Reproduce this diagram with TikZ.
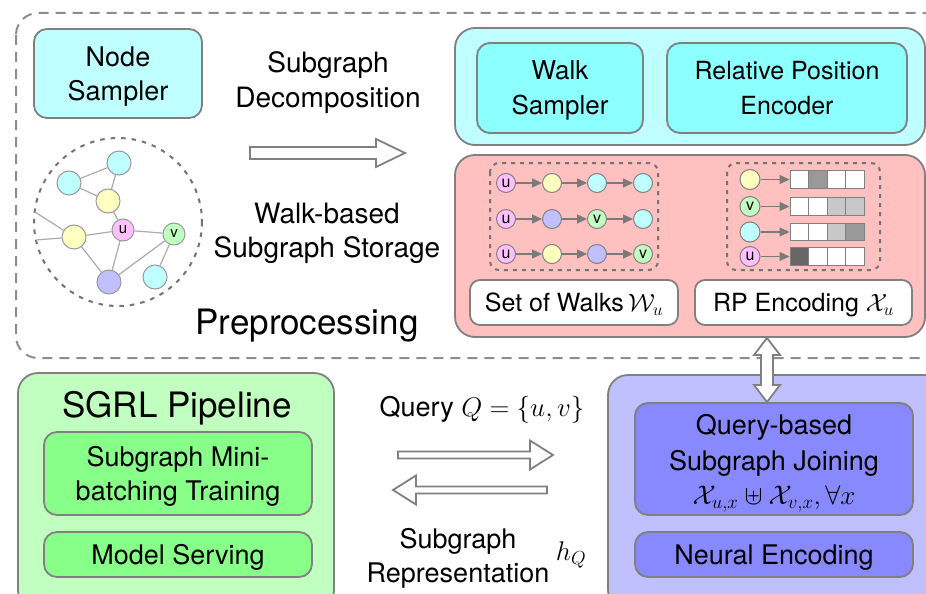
\RequirePackage{fix-cm}
\documentclass[tikz,border=0pt]{standalone}
\usepackage{fontspec}
\setmainfont{TeX Gyre Heros}
\usetikzlibrary{calc,arrows.meta}

\definecolor{edgegray}{HTML}{808080}
\definecolor{linkgray}{HTML}{AAAAAA}
\definecolor{arrowgray}{HTML}{7A7A7A}
\definecolor{cyanlt}{HTML}{C0FFFF}
\definecolor{cyanmd}{HTML}{8CFFFF}
\definecolor{pinkbg}{HTML}{FFC0C0}
\definecolor{greenlt}{HTML}{C0FFC0}
\definecolor{greenmd}{HTML}{88FF88}
\definecolor{purplelt}{HTML}{C0C0FF}
\definecolor{purplemd}{HTML}{8888FF}
\definecolor{nodeU}{HTML}{FFC0FF}
\definecolor{nodeY}{HTML}{FFFFC0}
\definecolor{nodeC}{HTML}{C0FFFF}
\definecolor{nodeV}{HTML}{C0FFC0}
\definecolor{nodeP}{HTML}{C0C0FF}
\definecolor{cellmid}{HTML}{999999}
\definecolor{celllt}{HTML}{C8C8C8}
\definecolor{celldk}{HTML}{666666}

% hollow horizontal arrow: tail, tip, shaft half-width, head half-width, head length
\newcommand\hollowH[5]{%
  \draw[hollow] let \p1=(#1), \p2=(#2), \n1={sign(\x2-\x1)} in
    (\x1,\y1+#3) -- (\x2-\n1*#5,\y1+#3) -- (\x2-\n1*#5,\y1+#4) -- (\x2,\y1)
    -- (\x2-\n1*#5,\y1-#4) -- (\x2-\n1*#5,\y1-#3) -- (\x1,\y1-#3) -- cycle;}
% hollow vertical double arrow between two points (first above second)
\newcommand\hollowVV[5]{%
  \draw[hollow] let \p1=(#1), \p2=(#2) in
    (\x1,\y1) -- (\x1+#4,\y1-#5) -- (\x1+#3,\y1-#5) -- (\x1+#3,\y2+#5)
    -- (\x1+#4,\y2+#5) -- (\x1,\y2) -- (\x1-#4,\y2+#5) -- (\x1-#3,\y2+#5)
    -- (\x1-#3,\y1-#5) -- (\x1-#4,\y1-#5) -- cycle;}

\begin{document}
\begin{tikzpicture}[x=1pt,y=-1pt,
  box/.style={draw=edgegray, line width=1.8pt, rounded corners=13pt,
    align=center, inner sep=0pt, text depth=0pt},
  outerbox/.style={box, rounded corners=20pt},
  tagbox/.style={box, fill=white, rounded corners=10pt},
  big/.style={font={\fontsize{27}{34}\selectfont}},
  huge/.style={font={\fontsize{35}{42}\selectfont}},
  plain/.style={align=center, inner sep=0pt, text depth=0pt},
  gnode/.style={circle, draw=edgegray!80, line width=1pt, minimum size=24pt,
    inner sep=0pt, font={\fontsize{15}{15}\selectfont}},
  wnode/.style={circle, draw=edgegray, line width=1pt, minimum size=19pt,
    inner sep=0pt, font={\fontsize{16}{16}\selectfont}},
  link/.style={draw=linkgray, line width=1.2pt},
  walkarrow/.style={draw=arrowgray, line width=1.3pt,
    -{Triangle[length=10pt,width=9pt]}},
  cell/.style={draw=edgegray, line width=1pt, minimum width=18.5pt,
    minimum height=17.5pt, inner sep=0pt, fill=white},
  hollow/.style={draw=edgegray, line width=1.8pt, fill=white, line join=miter},
  dotbox/.style={draw=edgegray!90!black, line width=2pt, rounded corners=9pt,
    dash pattern=on 4pt off 5pt},
]
\useasboundingbox (0,0) rectangle (926,594);
\clip (0,0) rectangle (926,594);

% preprocessing frame
\draw[draw=edgegray!90, line width=2pt, rounded corners=22pt,
  dash pattern=on 10pt off 7pt] (16,13) rectangle (945,358);

\node[box, big, fill=cyanlt, minimum width=168pt, minimum height=89pt]
  (nodesampler) at (118,73.5) {Node\\Sampler};

\node[plain, font={\fontsize{28}{35}\selectfont}] (decomp) at (328,80)
  {Subgraph\\Decomposition};
\node[plain, font={\fontsize{28}{34}\selectfont}] (storage) at (327,230)
  {Walk-based\\Subgraph Storage};
\node[plain, huge] (prep) at (307,322) {Preprocessing};

% sample graph
\draw[draw=edgegray!90!black, line width=2pt, dash pattern=on 4.5pt off 6pt]
  (118,222) circle[radius=84];
\node[gnode, fill=nodeC] (gc1) at (119,163) {};
\node[gnode, fill=nodeC] (gc2) at (69,183) {};
\node[gnode, fill=nodeY] (gy1) at (108,201) {};
\node[gnode, fill=nodeU, minimum size=22pt] (gu) at (123,230) {u};
\node[gnode, fill=nodeY] (gy2) at (74,237) {};
\node[gnode, fill=nodeV, minimum size=22pt] (gv) at (174,234) {v};
\node[gnode, fill=nodeP] (gp) at (109,282) {};
\node[gnode, fill=nodeC] (gc3) at (155,277) {};
\coordinate (gout1) at (35,212);
\coordinate (gout2) at (36,240);
\path[link] (gc2) -- (gc1) (gc2) -- (gy1) (gc1) -- (gy1) (gy1) -- (gu)
  (gy2) -- (gu) (gu) -- (gv) (gu) -- (gp) (gy2) -- (gp) (gp) -- (gv)
  (gv) -- (gc3) (gy2) -- (gout1) (gy2) -- (gout2);

% decomposition arrow
\coordinate (decTail) at (250,153);
\coordinate (decTip) at (405,153);
\hollowH{decTail}{decTip}{6pt}{14pt}{29pt}

% samplers
\node[outerbox, fill=cyanlt, minimum width=470pt, minimum height=117pt]
  (samplers) at (690,86.5) {};
\node[box, fill=cyanmd, minimum width=166pt, minimum height=90pt,
  font={\fontsize{26}{35}\selectfont}] (walksampler) at (560,88) {Walk\\Sampler};
\node[box, fill=cyanmd, minimum width=240pt, minimum height=90pt,
  font={\fontsize{25}{35}\selectfont}] (rpe) at (787,88) {Relative Position\\Encoder};

% storage
\node[outerbox, fill=pinkbg, minimum width=470pt, minimum height=182pt]
  (store) at (690,246) {};
\draw[dotbox] (490,163) rectangle (658,270);
\draw[dotbox] (727,163) rectangle (880,270);

% walks
\foreach \r/\yy/\ca/\la/\cb/\lb/\cc/\lc/\cd/\ld in {
  1/183/nodeU/u/nodeY//nodeC//nodeC/,
  2/219/nodeU/u/nodeP//nodeV/v/nodeC/,
  3/254/nodeU/u/nodeY//nodeP//nodeV/v}{
  \node[wnode, fill=\ca] (w\r a) at (506,\yy) {\la};
  \node[wnode, fill=\cb] (w\r b) at (552,\yy) {\lb};
  \node[wnode, fill=\cc] (w\r c) at (597,\yy) {\lc};
  \node[wnode, fill=\cd] (w\r d) at (643,\yy) {\ld};
  \draw[walkarrow] (w\r a) -- (w\r b);
  \draw[walkarrow] (w\r b) -- (w\r c);
  \draw[walkarrow] (w\r c) -- (w\r d);
}

% relative position encodings
\foreach \r/\yy/\cn/\ln/\ka/\kb/\kc/\kd in {
  1/179.5/nodeY//white/cellmid/white/white,
  2/206.5/nodeV/v/white/white/celllt/celllt,
  3/232/nodeC//white/white/celllt/cellmid,
  4/256.5/nodeU/u/celldk/white/white/white}{
  \node[wnode, fill=\cn, minimum size=20pt] (rp\r) at (750,\yy) {\ln};
  \node[cell, fill=\ka] (rp\r a) at (799.25,\yy) {};
  \node[cell, fill=\kb] (rp\r b) at (817.75,\yy) {};
  \node[cell, fill=\kc] (rp\r c) at (836.25,\yy) {};
  \node[cell, fill=\kd] (rp\r d) at (854.75,\yy) {};
  \draw[walkarrow] (rp\r) -- (rp\r a.west);
}

\node[tagbox, minimum width=208pt, minimum height=45pt,
  font={\fontsize{25}{30}\selectfont}] (walkset) at (574,302.5)
  {Set of Walks\,$\mathcal{W}_u$};
\node[tagbox, minimum width=217pt, minimum height=45pt,
  font={\fontsize{25}{30}\selectfont}] (rpenc) at (803.5,302.5)
  {RP Encoding $\mathcal{X}_u$};

% SGRL pipeline
\node[outerbox, fill=greenlt, minimum width=316pt, minimum height=237pt]
  (sgrl) at (176,491.5) {};
\node[plain, huge] (sgrltitle) at (177,404) {SGRL Pipeline};
\node[box, big, fill=greenmd, minimum width=268pt, minimum height=83pt]
  (minibatch) at (178,473.5) {Subgraph Mini-\\batching Training};
\node[box, big, fill=greenmd, minimum width=268pt, minimum height=45pt]
  (serving) at (178,554.5) {Model Serving};

% query engine
\node[outerbox, fill=purplelt, minimum width=337pt, minimum height=235pt]
  (engine) at (776.5,492.5) {};
\node[box, fill=purplemd, minimum width=278pt, minimum height=112pt,
  font={\fontsize{27}{36}\selectfont}] (joining) at (774,459)
  {Query-based\\Subgraph Joining\\[-2pt]$\mathcal{X}_{u,x}\uplus\mathcal{X}_{v,x},\forall x$};
\node[box, big, fill=purplemd, minimum width=278pt, minimum height=45pt]
  (neural) at (774,554.5) {Neural Encoding};

% storage <-> engine
\coordinate (rpTop) at (767,338);
\coordinate (rpBot) at (767,402);
\hollowVV{rpTop}{rpBot}{6pt}{13pt}{17pt}

% query / representation arrows
\node[plain, font={\fontsize{27}{30}\selectfont}] (query) at (482,406)
  {Query $Q=\{u,v\}$};
\coordinate (qTail) at (398,455);
\coordinate (qTip) at (553,455);
\hollowH{qTail}{qTip}{3.5pt}{14.5pt}{23pt}
\coordinate (hTail) at (547,490);
\coordinate (hTip) at (393,490);
\hollowH{hTail}{hTip}{3.5pt}{14.5pt}{23pt}
\node[plain, big] (repr) at (458,555) {Subgraph\\Representation};
\node[plain, font={\fontsize{27}{30}\selectfont}] (hq) at (571,551) {$h_Q$};
\end{tikzpicture}
\end{document}
